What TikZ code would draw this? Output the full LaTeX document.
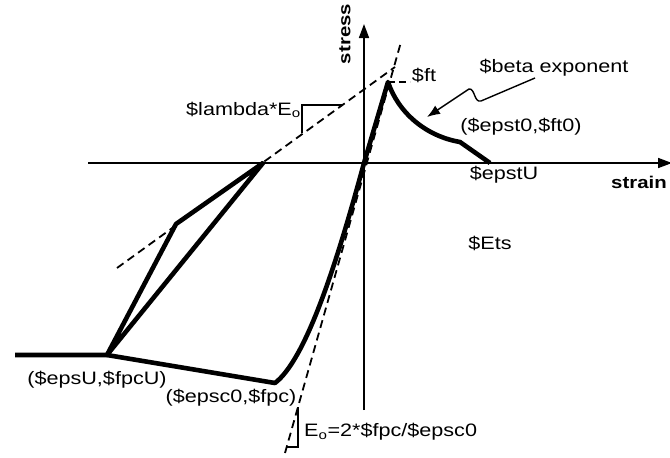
\documentclass[tikz,border=0pt]{standalone}
\usepackage{fontspec}
\setmainfont[FakeStretch=1.2]{Liberation Sans}
\usetikzlibrary{arrows.meta}
\tikzset{axis/.style = {line width=1.6pt, -{Triangle[length=14pt,width=10pt]}}}
\tikzset{response/.style = {line width=4.6pt, line join=round}}
\tikzset{tangent/.style = {line width=1.8pt, dash pattern=on 8pt off 5pt}}
\tikzset{slope/.style = {line width=1.2pt}}
\tikzset{lbl/.style = {font=\fontsize{18}{21}\selectfont, inner sep=0pt}}
\tikzset{axlbl/.style = {font=\fontsize{17}{20}\selectfont\bfseries, inner sep=0pt}}

\begin{document}
\begin{tikzpicture}[x=1pt, y=-1pt]
      \useasboundingbox (0,0) rectangle (670,458);
      % points of the response
      \coordinate (O) at (364,163);
      \coordinate (peak) at (388,82);
      \coordinate (epst0) at (460,142);
      \coordinate (epstU) at (490,163);
      \coordinate (epsc0) at (275,383);
      \coordinate (epsU) at (107,355);
      \coordinate (resid) at (15,355);
      \coordinate (unl) at (263,163);
      \coordinate (knee) at (176,224);
      % axes
      \coordinate (xl) at (88,163);
      \coordinate (xr) at (672,163);
      \coordinate (yb) at (364,410);
      \coordinate (yt) at (364,24);
      \draw[axis] (xl) -- (xr);
      \draw[axis] (yb) -- (yt);
      % tangents
      \coordinate (e0a) at (285,453);
      \coordinate (e0b) at (401,42);
      \coordinate (lama) at (117,268);
      \coordinate (lamb) at (395,67);
      \draw[tangent] (e0a) -- (e0b);
      \draw[tangent] (lama) -- (lamb);
      \draw[slope] (302,133) -- (302,105) -- (343,105);
      \draw[slope] (298,407) -- (298,447) -- (287,447);
      \draw[slope, dash pattern=on 7pt off 4pt] (peak) -- (410,82);
      % response
      \draw[response] (resid) -- (epsU) -- (epsc0)
        .. controls (305,360) and (335,270) .. (O) -- (peak)
        .. controls (398,112) and (425,136) .. (epst0) -- (epstU);
      \draw[response] (epsU) -- (knee) -- (unl) -- cycle;
      % labels
      \node[axlbl, rotate=90] (stress) at (345,34) {stress};
      \node[axlbl] (strain) at (639,182) {strain};
      \node[lbl] (ft) at (424,75) {\$ft};
      \node[lbl] (beta) at (554,68) {\$beta exponent};
      \node[lbl] (ft0) at (521,127) {(\$epst0,\$ft0)};
      \node[lbl] (epstUlbl) at (504,175) {\$epstU};
      \node[lbl] (Ets) at (490,243) {\$Ets};
      \node[lbl, anchor=east] (lambda) at (301,110) {\$lambda*E\textsubscript{o}};
      \node[lbl] (fpcU) at (97,380) {(\$epsU,\$fpcU)};
      \node[lbl] (fpc) at (231,398) {(\$epsc0,\$fpc)};
      \node[lbl, anchor=west] (E0) at (304,432) {E\textsubscript{o}=2*\$fpc/\$epsc0};
      % pointer to the softening branch
      \coordinate (tail) at (535,78);
      \coordinate (tip) at (427,117);
      \draw[line width=1.4pt, -{Latex[length=13pt,width=10pt]}] (tail) -- (481,101)
        .. controls (474,103) and (475,88) .. (469,89) -- (tip);
    \end{tikzpicture}
\end{document}
